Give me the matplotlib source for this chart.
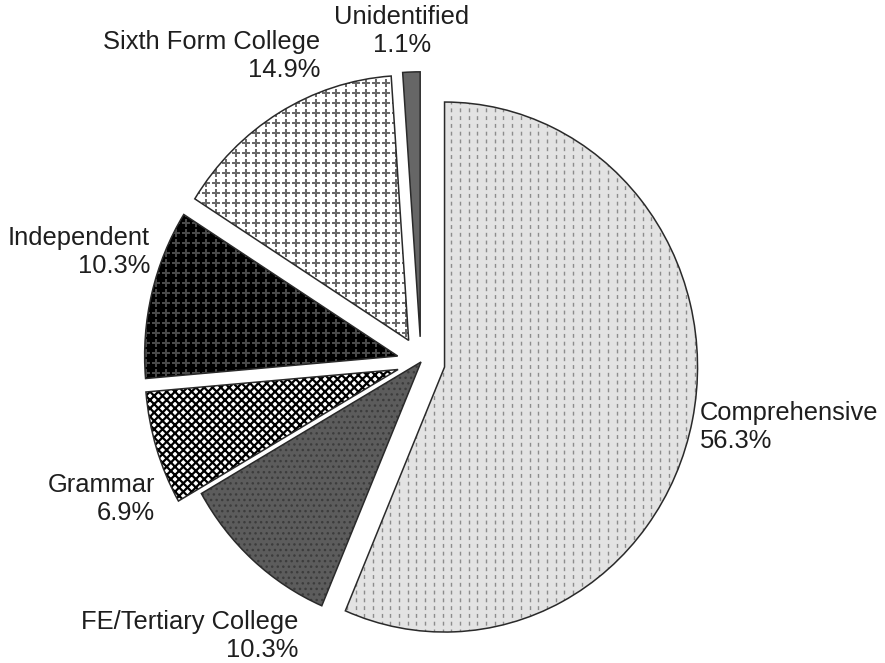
import numpy as np
import matplotlib
matplotlib.use("Agg")
import matplotlib.pyplot as plt
import matplotlib.patches as mpatches

plt.rcParams["font.family"] = ["Liberation Sans", "DejaVu Sans"]

# data
categories = ["Comprehensive", "FE/Tertiary College", "Grammar",
              "Independent", "Sixth Form College", "Unidentified"]
percents = [56.3, 10.3, 6.9, 10.3, 14.9, 1.1]

# styles per slice
face_colors = ["#e3e3e3", "#5c5c5c", "#ffffff", "#000000", "#ffffff", "#666666"]
hatches = [None, "...", "xxxx", None, None, None]
hatch_colors = [None, "#3c3c3c", "#000000", None, None, None]
hatch_widths = [None, 1.0, 1.6, None, None, None]
cross_colors = [None, None, None, "#4a4a4a", "#6a6a6a", None]
explode = [0.095, 0.0, 0.095, 0.095, 0.095, 0.095]

# label anchors in pixels (x, y from top), alignment
label_pos = [(700, 427, "left"), (298, 636, "right"), (155, 499, "right"),
             (150, 252, "right"), (320, 56, "right"), (402, 31, "center")]

W, H = 885, 663
cx, cy = 421, 362
sx, sy = 253, 265   # pixels per unit (picture is slightly squeezed sideways)

fig = plt.figure(figsize=(W / 100, H / 100), dpi=100)
ax = fig.add_axes([0, 0, 1, 1])

wedges, _ = ax.pie(percents, explode=explode, startangle=90, counterclock=False,
                   colors=face_colors, radius=1,
                   wedgeprops=dict(edgecolor="none", linewidth=0))

ax.set_aspect("auto")
ax.set_xlim(-cx / sx, (W - cx) / sx)
ax.set_ylim((cy - H) / sy, cy / sy)
ax.axis("off")

# lattice for the cross textures
gx, gy = np.meshgrid(np.arange(-1.8, 1.9, 10 / sx), np.arange(-1.4, 1.5, 10 / sy))

for i, w in enumerate(wedges):
    if hatches[i]:
        hp = mpatches.Wedge(w.center, w.r, w.theta1, w.theta2, fill=False,
                            hatch=hatches[i], edgecolor=hatch_colors[i],
                            linewidth=0, zorder=2)
        if hasattr(hp, "set_hatch_linewidth"):
            hp.set_hatch_linewidth(hatch_widths[i])
        ax.add_patch(hp)
    if cross_colors[i]:
        sc = ax.scatter(gx.ravel(), gy.ravel(), marker="P", s=34,
                        color=cross_colors[i], linewidths=0, zorder=2)
        sc.set_clip_path(w)
    if i == 0:
        # dashed vertical texture of the big slice
        xs = np.arange(-1.6, 1.8, 8.7 / sx)
        lc = ax.vlines(xs, -1.3, 1.3, colors="#8c8c8c", linewidth=1.0,
                       linestyles=[(0, (2.8, 2.8))], zorder=2)
        lc.set_clip_path(w)
    ol = mpatches.Wedge(w.center, w.r, w.theta1, w.theta2, fill=False,
                        edgecolor="#2a2a2a", linewidth=1.1, zorder=3)
    ax.add_patch(ol)

for name, pct, (px, py, ha) in zip(categories, percents, label_pos):
    fig.text(px / W, 1 - py / H, f"{name}\n{pct:.1f}%", ha=ha, va="center",
             multialignment=ha, fontsize=18.4, color="#1e1e1e", linespacing=1.2)

fig.savefig("out.png", dpi=100)
